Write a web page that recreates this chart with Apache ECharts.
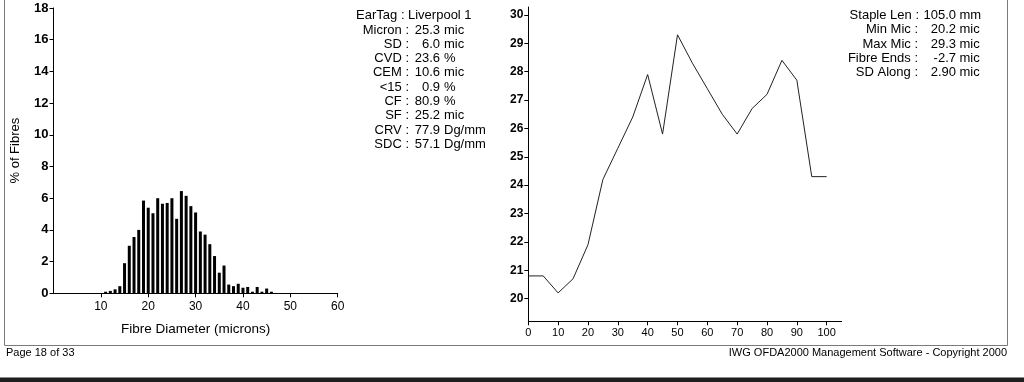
<!DOCTYPE html>
<html>
<head>
<meta charset="utf-8">
<script src="https://cdn.jsdelivr.net/npm/echarts@6/dist/echarts.min.js"></script>
<style>
html,body{margin:0;padding:0;background:#fff;}
#c{width:1024px;height:382px;}
</style>
</head>
<body>
<div id="c"></div>
<script>
// Histogram: fibre diameter (microns) vs % of fibres
const histDiam = [11,12,13,14,15,16,17,18,19,20,21,22,23,24,25,26,27,28,29,30,31,32,33,34,35,36,37,38,39,40,41,42,43,44,45,46];
const histPct  = [0.1,0.15,0.25,0.45,1.9,3.0,3.55,4.0,5.85,5.4,5.05,6.0,5.65,5.7,6.0,4.7,6.45,6.15,5.5,5.1,3.9,3.7,3.1,2.35,1.3,1.75,0.55,0.45,0.6,0.35,0.4,0.1,0.4,0.1,0.3,0.1];
// Profile along staple: position (%) vs micron
const alongPos = [0,5,10,15,20,25,30,35,40,45,50,55,60,65,70,75,80,85,90,95,100];
const alongMic = [20.8,20.8,20.2,20.7,21.9,24.2,25.3,26.4,27.9,25.8,29.3,28.3,27.4,26.5,25.8,26.7,27.2,28.4,27.7,24.3,24.3];
const rightYTicks = [20,21,22,23,24,25,26,27,28,29,30];
const rightXTicks = [0,10,20,30,40,50,60,70,80,90,100];
// Statistics text
const statLabels = ['EarTag :','Micron :','SD :','CVD :','CEM :','<15 :','CF :','SF :','CRV :','SDC :'];
const statNums   = ['Liverpool 1','25.3','6.0','23.6','10.6','0.9','80.9','25.2','77.9','57.1'];
const statUnits  = ['','mic','mic','%','mic','%','%','mic','Dg/mm','Dg/mm'];
const profLabels = ['Staple Len :','Min Mic :','Max Mic :','Fibre Ends :','SD Along :'];
const profNums   = ['105.0','20.2','29.3','-2.7','2.90'];
const profUnits  = ['mm','mic','mic','mic','mic'];
const footLeft = 'Page 18 of 33';
const footRight = 'IWG OFDA2000 Management Software - Copyright 2000';

const FONT = '"Liberation Sans", Arial, sans-serif';
const chart = echarts.init(document.getElementById('c'), null, {renderer:'canvas'});

const graphics = [];
graphics.push({type:'rect', shape:{x:4.5,y:-5,width:1003,height:350.5}, style:{fill:'none',stroke:'#7a7a7a',lineWidth:1}, silent:true});
graphics.push({type:'rect', shape:{x:0,y:378,width:1024,height:4}, style:{fill:'#1e1e1e'}, silent:true});
graphics.push({type:'rect', shape:{x:0,y:377,width:1024,height:1}, style:{fill:'#8a8a8a'}, silent:true});
const txt = (t,x,y,align,size) => ({type:'text', silent:true, style:{text:t,x:x,y:y,textAlign:align,textVerticalAlign:'middle',font:(size||13)+'px '+FONT,fill:'#000'}});

for (let i=0;i<statLabels.length;i++){
  const y = 15.7 + i*14.3;
  if (i===0){
    graphics.push(txt(statLabels[i],404.5,y,'right'));
    graphics.push(txt(statNums[i],408,y,'left'));
  } else {
    graphics.push(txt(statLabels[i],409,y,'right'));
    graphics.push(txt(statNums[i],440,y,'right'));
    graphics.push(txt(statUnits[i],444,y,'left'));
  }
}
for (let i=0;i<profLabels.length;i++){
  const y = 15.7 + i*14.2;
  graphics.push(txt(profLabels[i], i===0?919:918, y,'right'));
  graphics.push(txt(profNums[i],956,y,'right'));
  graphics.push(txt(profUnits[i],959.5,y,'left'));
}
graphics.push(txt(footLeft,6,352.5,'left',11));
graphics.push(txt(footRight,1007,352.5,'right',11));

const axisBase = {
  axisLine:{show:true,onZero:false,lineStyle:{color:'#000',width:1}},
  axisTick:{show:true,length:4,lineStyle:{color:'#000'}},
  splitLine:{show:false}
};

chart.setOption({
  animation:false,
  backgroundColor:'#fff',
  grid:[
    {left:53.5, top:8, width:284.2, height:285.3},
    {left:528.3, top:7, width:313.3, height:314.3}
  ],
  xAxis:[
    Object.assign({}, axisBase, {gridIndex:0, type:'value', min:0, max:60, interval:10,
      name:'Fibre Diameter (microns)', nameLocation:'middle', nameGap:29,
      nameTextStyle:{fontFamily:FONT,fontSize:13.5,color:'#000'},
      axisLabel:{showMinLabel:false, margin:7, fontFamily:FONT, fontSize:12, color:'#000'}}),
    Object.assign({}, axisBase, {gridIndex:1, type:'value', min:0, max:105,
      axisTick:{show:true,length:4,lineStyle:{color:'#000'},customValues:rightXTicks},
      axisLabel:{margin:6, fontFamily:FONT, fontSize:11, color:'#000', customValues:rightXTicks}})
  ],
  yAxis:[
    Object.assign({}, axisBase, {gridIndex:0, type:'value', min:0, max:18, interval:2,
      name:'% of Fibres', nameLocation:'middle', nameGap:32, nameRotate:90,
      nameTextStyle:{fontFamily:FONT,fontSize:13,color:'#000'},
      axisLabel:{margin:5, fontFamily:FONT, fontSize:13, fontWeight:'bold', color:'#000'}}),
    Object.assign({}, axisBase, {gridIndex:1, type:'value', min:19.2, max:30.28,
      axisTick:{show:true,length:4,lineStyle:{color:'#000'},customValues:rightYTicks},
      axisLabel:{margin:5, fontFamily:FONT, fontSize:12, fontWeight:'bold', color:'#000', customValues:rightYTicks}})
  ],
  series:[
    {type:'bar', xAxisIndex:0, yAxisIndex:0, barWidth:3,
      itemStyle:{color:'#000'},
      data: histDiam.map((d,i)=>[d,histPct[i]])},
    {type:'line', xAxisIndex:1, yAxisIndex:1, symbol:'none',
      lineStyle:{color:'#222',width:1},
      data: alongPos.map((p,i)=>[p,alongMic[i]])}
  ],
  graphic: graphics
});
</script>
</body>
</html>
